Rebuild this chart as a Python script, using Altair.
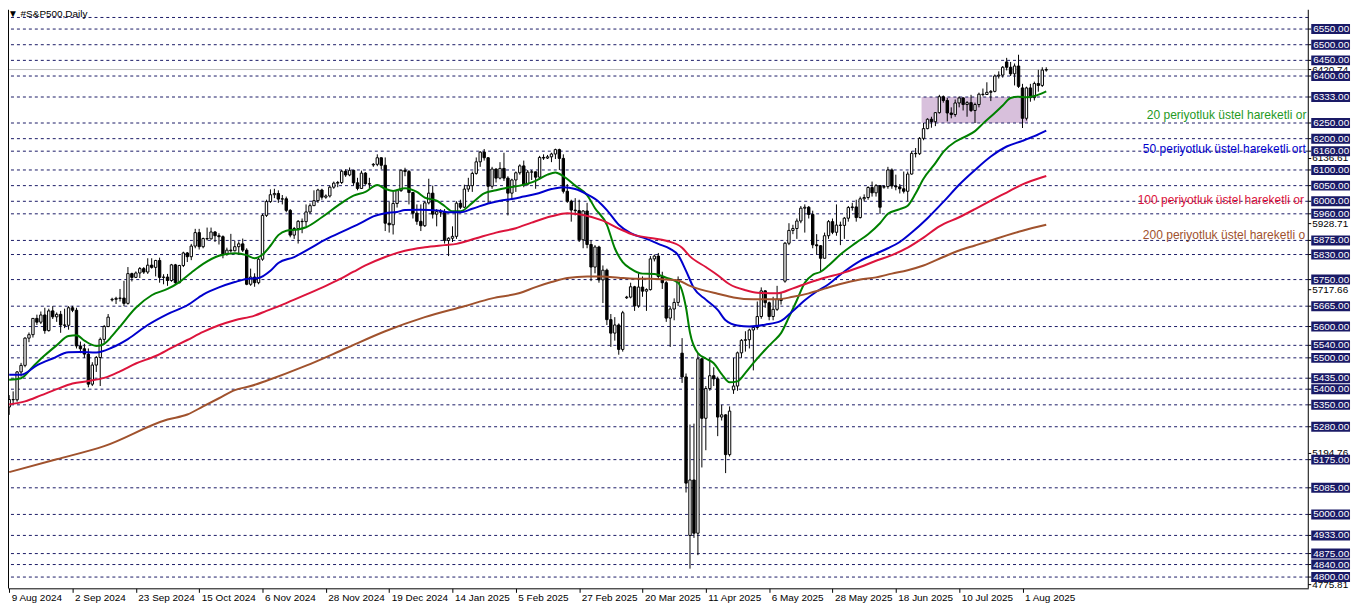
import altair as alt
import pandas as pd

# ---------------- candle data ----------------
opens = [
    5343, 5367, 5366, 5455, 5476, 5563, 5574, 5626, 5614, 5637,
    5587, 5650, 5631, 5639, 5605, 5604, 5660, 5652, 5538, 5529,
    5512, 5416, 5477, 5501, 5559, 5600, 5685, 5687, 5690, 5691,
    5674, 5769, 5757, 5771, 5785, 5774, 5796, 5789, 5811, 5757,
    5758, 5747, 5797, 5740, 5795, 5835, 5823, 5857, 5900, 5855,
    5881, 5880, 5902, 5890, 5887, 5832, 5844, 5842, 5855, 5864,
    5844, 5735, 5758, 5740, 5815, 5955, 5999, 6021, 6025, 6007,
    6008, 5971, 5892, 5913, 5936, 5935, 5966, 5986, 6002, 6036,
    6013, 6017, 6045, 6058, 6060, 6096, 6084, 6099, 6059, 6041,
    6090, 6056, 6116, 6118, 6139, 6115, 5930, 5925, 5993, 6034,
    6099, 6095, 6028, 5962, 5936, 5922, 5995, 6026, 5959, 5967,
    5965, 5875, 5882, 5888, 5994, 5981, 6039, 6050, 6089, 6126,
    6157, 6139, 6048, 6103, 6074, 6105, 6074, 6026, 6068, 6091,
    6113, 6055, 6093, 6094, 6077, 6140, 6138, 6142, 6151, 6165,
    6137, 6032, 6000, 5972, 5970, 5877, 5969, 5862, 5790, 5854,
    5749, 5780, 5622, 5579, 5605, 5527, 5692, 5694, 5727, 5666,
    5726, 5713, 5718, 5816, 5825, 5760, 5740, 5627, 5656, 5677,
    5515, 5439, 4933, 5110, 4940, 5497, 5307, 5402, 5443, 5433,
    5311, 5318, 5191, 5398, 5410, 5516, 5556, 5558, 5589, 5597,
    5632, 5714, 5676, 5632, 5655, 5688, 5745, 5866, 5907, 5913,
    5937, 5978, 5981, 5958, 5861, 5858, 5818, 5890, 5935, 5901,
    5924, 5923, 5946, 5980, 5982, 5948, 6008, 6012, 6044, 6027,
    6050, 6045, 6047, 6100, 6049, 6046, 6040, 6032, 6087, 6153,
    6152, 6201, 6232, 6262, 6254, 6283, 6334, 6322, 6282, 6277,
    6314, 6330, 6309, 6315, 6290, 6309, 6342, 6341, 6348, 6351,
    6400, 6403, 6445, 6428, 6407, 6432, 6362, 6265, 6362, 6331,
    6376, 6370, 6419,
]
highs = [
    5381, 5393, 5458, 5484, 5566, 5581, 5627, 5638, 5648, 5660,
    5657, 5665, 5645, 5650, 5657, 5665, 5666, 5660, 5552, 5545,
    5530, 5486, 5506, 5565, 5605, 5640, 5692, 5695, 5720, 5746,
    5790, 5772, 5776, 5790, 5790, 5818, 5818, 5813, 5820, 5767,
    5768, 5800, 5800, 5797, 5839, 5838, 5864, 5912, 5912, 5884,
    5916, 5916, 5905, 5898, 5891, 5852, 5896, 5874, 5872, 5881,
    5850, 5785, 5770, 5820, 5960, 6005, 6038, 6040, 6035, 6020,
    6015, 5975, 5918, 5940, 5945, 5990, 5993, 6035, 6040, 6040,
    6022, 6050, 6063, 6065, 6100, 6102, 6108, 6100, 6075, 6098,
    6093, 6075, 6122, 6150, 6140, 6140, 5998, 6030, 6038, 6101,
    6107, 6100, 6030, 5990, 5990, 6000, 6072, 6050, 5975, 5975,
    5975, 5885, 5920, 6000, 6005, 6053, 6075, 6095, 6140, 6160,
    6167, 6141, 6110, 6105, 6125, 6155, 6080, 6072, 6095, 6118,
    6130, 6100, 6100, 6095, 6145, 6150, 6148, 6155, 6168, 6168,
    6150, 6055, 6005, 6010, 6005, 5972, 5995, 5875, 5860, 5858,
    5795, 5785, 5640, 5630, 5610, 5650, 5698, 5740, 5730, 5770,
    5760, 5722, 5825, 5830, 5835, 5775, 5745, 5665, 5690, 5760,
    5563, 5450, 5287, 5290, 5515, 5500, 5410, 5500, 5470, 5440,
    5350, 5320, 5345, 5500, 5520, 5560, 5585, 5593, 5600, 5680,
    5725, 5716, 5680, 5695, 5730, 5710, 5870, 5930, 5925, 5945,
    5985, 5990, 5985, 5970, 5895, 5860, 5900, 5940, 5945, 5990,
    5935, 5950, 5985, 5995, 6005, 6015, 6022, 6048, 6063, 6055,
    6052, 6052, 6110, 6105, 6085, 6055, 6095, 6095, 6160, 6170,
    6205, 6250, 6265, 6270, 6285, 6340, 6338, 6330, 6300, 6325,
    6335, 6332, 6320, 6340, 6315, 6347, 6360, 6380, 6355, 6405,
    6415, 6432, 6458, 6445, 6440, 6468, 6375, 6366, 6375, 6382,
    6420, 6428, 6428,
]
lows = [
    5318, 5351, 5360, 5440, 5470, 5550, 5565, 5605, 5608, 5577,
    5584, 5624, 5615, 5580, 5595, 5590, 5646, 5530, 5515, 5500,
    5406, 5410, 5455, 5410, 5548, 5598, 5680, 5672, 5680, 5665,
    5670, 5744, 5755, 5755, 5768, 5768, 5785, 5760, 5740, 5735,
    5730, 5743, 5735, 5738, 5790, 5806, 5812, 5850, 5846, 5850,
    5875, 5878, 5870, 5862, 5818, 5826, 5836, 5840, 5830, 5838,
    5732, 5730, 5727, 5735, 5810, 5950, 5995, 6010, 5995, 5990,
    5965, 5885, 5880, 5865, 5898, 5920, 5960, 5985, 5995, 6005,
    6008, 6012, 6040, 6045, 6055, 6078, 6080, 6050, 6035, 6040,
    6053, 6040, 6110, 6112, 6102, 5905, 5900, 5894, 5980, 6030,
    6080, 5990, 5945, 5925, 5905, 5918, 5990, 5945, 5920, 5950,
    5865, 5825, 5870, 5880, 5975, 5978, 6030, 6030, 6085, 6110,
    6130, 5995, 6040, 6060, 6070, 6065, 5955, 6005, 6030, 6085,
    6045, 6050, 6068, 6040, 6070, 6132, 6135, 6125, 6135, 6100,
    6025, 5995, 5935, 5955, 5870, 5850, 5850, 5745, 5770, 5740,
    5675, 5605, 5535, 5555, 5510, 5520, 5688, 5690, 5650, 5660,
    5695, 5650, 5715, 5808, 5750, 5720, 5615, 5535, 5620, 5665,
    5420, 5070, 4827, 4925, 4870, 5150, 5205, 5395, 5410, 5250,
    5300, 5132, 5185, 5385, 5395, 5500, 5520, 5530, 5460, 5590,
    5625, 5660, 5620, 5620, 5650, 5670, 5740, 5860, 5895, 5880,
    5930, 5900, 5945, 5850, 5830, 5775, 5818, 5880, 5895, 5890,
    5860, 5880, 5935, 5970, 5935, 5945, 6000, 6005, 6015, 6015,
    5960, 6040, 6040, 6040, 6035, 6025, 6025, 6000, 6085, 6140,
    6148, 6195, 6230, 6235, 6240, 6280, 6315, 6255, 6265, 6270,
    6300, 6290, 6270, 6285, 6250, 6300, 6335, 6340, 6320, 6348,
    6392, 6395, 6418, 6400, 6370, 6362, 6234, 6258, 6318, 6322,
    6350, 6365, 6414,
]
closes = [
    5367, 5366, 5455, 5476, 5563, 5574, 5626, 5614, 5637, 5587,
    5650, 5631, 5639, 5605, 5604, 5660, 5652, 5538, 5529, 5512,
    5416, 5477, 5501, 5559, 5600, 5630, 5687, 5690, 5691, 5674,
    5769, 5757, 5771, 5785, 5774, 5796, 5789, 5811, 5757, 5758,
    5747, 5797, 5740, 5795, 5835, 5823, 5857, 5900, 5855, 5881,
    5880, 5902, 5890, 5887, 5832, 5844, 5842, 5855, 5864, 5844,
    5735, 5758, 5740, 5815, 5955, 5999, 6021, 6025, 6007, 6008,
    5971, 5892, 5913, 5936, 5935, 5966, 5986, 6002, 6036, 6013,
    6017, 6045, 6058, 6060, 6096, 6084, 6099, 6059, 6041, 6090,
    6056, 6055, 6118, 6139, 6115, 5930, 5925, 5993, 6034, 6099,
    6095, 6028, 5962, 5936, 5922, 5995, 6026, 5959, 5967, 5965,
    5875, 5882, 5888, 5994, 5981, 6039, 6050, 6089, 6126, 6157,
    6139, 6048, 6103, 6074, 6105, 6074, 6026, 6068, 6091, 6113,
    6055, 6093, 6094, 6077, 6140, 6138, 6142, 6151, 6165, 6137,
    6032, 6000, 5972, 5970, 5877, 5969, 5862, 5790, 5854, 5749,
    5780, 5622, 5579, 5605, 5527, 5644, 5694, 5727, 5666, 5726,
    5713, 5718, 5816, 5825, 5760, 5740, 5627, 5656, 5677, 5750,
    5439, 5100, 5110, 4940, 5497, 5307, 5402, 5443, 5433, 5311,
    5318, 5191, 5330, 5410, 5516, 5556, 5558, 5589, 5597, 5632,
    5714, 5676, 5632, 5655, 5688, 5683, 5866, 5907, 5913, 5937,
    5978, 5981, 5958, 5861, 5858, 5818, 5890, 5935, 5901, 5924,
    5923, 5946, 5980, 5982, 5948, 6008, 6012, 6044, 6027, 6050,
    5981, 6047, 6100, 6049, 6046, 6040, 6032, 6087, 6153, 6152,
    6201, 6232, 6262, 6254, 6283, 6334, 6322, 6282, 6277, 6314,
    6330, 6309, 6315, 6290, 6309, 6342, 6341, 6348, 6351, 6400,
    6403, 6428, 6428, 6407, 6432, 6367, 6265, 6362, 6331, 6376,
    6370, 6419, 6420.74,
]

# ---------------- moving averages (bar index, value) ----------------
ema20 = [(0, 5430), (3, 5435), (6, 5472), (9, 5508), (12, 5540), (15, 5570), (17, 5572),
         (19, 5555), (22, 5538), (24, 5545), (26, 5570), (28, 5600), (32, 5660), (36, 5700),
         (40, 5720), (43, 5742), (46, 5772), (49, 5800), (53, 5826), (57, 5834), (60, 5828),
         (62, 5818), (64, 5830), (66, 5858), (68, 5892), (70, 5906), (73, 5910), (75, 5917),
         (79, 5949), (83, 5986), (87, 6018), (90, 6030), (93, 6052), (95, 6040), (97, 6033),
         (100, 6042), (103, 6030), (105, 6012), (108, 6002), (110, 5985), (112, 5968),
         (114, 5968), (117, 5995), (120, 6025), (123, 6035), (126, 6044), (129, 6050),
         (133, 6065), (136, 6085), (138, 6092), (140, 6080), (143, 6050), (146, 6020),
         (148, 5978), (151, 5925), (153, 5850), (155, 5806), (157, 5785), (160, 5769),
         (163, 5768), (166, 5756), (169, 5740), (171, 5660), (172, 5580), (174, 5515),
         (176, 5498), (178, 5483), (180, 5448), (182, 5422), (184, 5425), (186, 5452),
         (188, 5483), (191, 5526), (193, 5552), (195, 5579), (197, 5630), (199, 5684),
         (201, 5740), (203, 5765), (205, 5775), (207, 5795), (210, 5830), (214, 5868),
         (217, 5895), (220, 5930), (222, 5960), (225, 5975), (227, 5986), (229, 6025),
         (231, 6072), (234, 6122), (236, 6158), (239, 6190), (241, 6203), (244, 6224),
         (246, 6248), (249, 6282), (251, 6306), (253, 6330), (255, 6334), (257, 6332),
         (259, 6336), (262, 6351)]
ema50 = [(0, 5446), (3, 5446), (7, 5476), (11, 5498), (15, 5518), (18, 5519), (22, 5517),
         (26, 5533), (30, 5560), (35, 5605), (40, 5640), (45, 5668), (49, 5702), (53, 5725),
         (57, 5742), (60, 5752), (63, 5755), (66, 5778), (68, 5803), (72, 5822), (76, 5850),
         (80, 5878), (85, 5908), (89, 5932), (92, 5952), (95, 5962), (98, 5966), (100, 5972),
         (104, 5973), (108, 5971), (111, 5965), (114, 5965), (117, 5976), (121, 5993),
         (124, 6002), (127, 6007), (130, 6015), (133, 6023), (137, 6039), (140, 6045),
         (143, 6039), (146, 6022), (149, 5998), (151, 5972), (154, 5925), (157, 5898),
         (161, 5880), (164, 5864), (167, 5848), (169, 5828), (171, 5778), (173, 5722),
         (176, 5686), (179, 5653), (181, 5620), (184, 5603), (187, 5600), (191, 5606),
         (195, 5618), (198, 5650), (201, 5684), (204, 5712), (207, 5735), (211, 5776),
         (215, 5810), (219, 5833), (222, 5850), (225, 5870), (228, 5900), (232, 5946),
         (236, 5998), (240, 6053), (244, 6100), (248, 6143), (252, 6175), (256, 6193),
         (259, 6208), (262, 6226)]
ema100 = [(0, 5351), (4, 5361), (8, 5380), (12, 5400), (16, 5418), (20, 5426), (24, 5436),
          (28, 5457), (32, 5482), (37, 5506), (41, 5532), (45, 5557), (49, 5583), (53, 5604),
          (57, 5620), (62, 5635), (65, 5650), (70, 5675), (75, 5702), (80, 5730), (83, 5748),
          (87, 5775), (90, 5795), (95, 5822), (100, 5842), (105, 5853), (110, 5860),
          (113, 5864), (118, 5882), (123, 5900), (128, 5914), (132, 5932), (137, 5952),
          (141, 5962), (145, 5956), (150, 5938), (154, 5913), (158, 5892), (162, 5883),
          (166, 5874), (170, 5852), (172, 5824), (176, 5790), (179, 5764), (182, 5735),
          (186, 5716), (189, 5708), (194, 5706), (198, 5722), (202, 5740), (206, 5756),
          (210, 5769), (215, 5790), (219, 5810), (223, 5828), (227, 5852), (231, 5884),
          (235, 5920), (240, 5949), (244, 5975), (248, 6002), (252, 6028), (256, 6054),
          (262, 6081)]
ema200 = [(0, 5135), (12, 5176), (24, 5218), (40, 5303), (45, 5319), (49, 5345), (53, 5371),
          (57, 5397), (61, 5410), (65, 5427), (75, 5475), (85, 5530), (95, 5585), (105, 5630),
          (115, 5665), (122, 5690), (129, 5707), (133, 5726), (137, 5742), (141, 5755),
          (146, 5760), (150, 5760), (154, 5756), (158, 5753), (162, 5753), (166, 5750),
          (169, 5747), (172, 5730), (176, 5714), (179, 5705), (183, 5693), (188, 5687),
          (194, 5687), (198, 5695), (202, 5706), (206, 5721), (210, 5736), (215, 5750),
          (219, 5757), (223, 5769), (227, 5780), (231, 5795), (236, 5822), (240, 5843),
          (244, 5859), (248, 5875), (252, 5891), (256, 5906), (262, 5925)]

ma_names = ["EMA20", "EMA50", "EMA100", "EMA200"]
ma_colors = ["#008000", "#0000cd", "#dc143c", "#a0522d"]
# labels as far as they are visible before the price scale cuts them
ma_label_texts = ["20 periyotluk üstel hareketli or",
                  "50 periyotluk üstel hareketli ort",
                  "100 periyotluk üstel hareketli or",
                  "200 periyotluk üstel hareketli o"]
ma_label_bar = [287.4, 286.4, 285.1, 286.4]
ma_label_price = [6275, 6167, 6005, 5891]
ma_label_colors = ["#1f9a1f", "#0000cd", "#dc143c", "#a0522d"]

# ---------------- axis / levels ----------------
x_tick_bars = [0, 16, 32, 48, 64, 80, 96, 112, 128, 144, 160, 176, 192, 208, 224, 240, 256]
x_tick_labels = ["9 Aug 2024", "2 Sep 2024", "23 Sep 2024", "15 Oct 2024", "6 Nov 2024",
                 "28 Nov 2024", "19 Dec 2024", "14 Jan 2025", "5 Feb 2025", "27 Feb 2025",
                 "20 Mar 2025", "11 Apr 2025", "6 May 2025", "28 May 2025", "18 Jun 2025",
                 "10 Jul 2025", "1 Aug 2025"]
level_lines = [6587, 6550, 6500, 6450, 6400, 6333, 6250, 6200, 6160, 6100, 6050, 6000, 5960,
               5875, 5830, 5750, 5665, 5600, 5540, 5500, 5435, 5400, 5350, 5280, 5175, 5085,
               5000, 4933, 4875, 4840, 4800]
boxed_levels = [6550, 6500, 6450, 6400, 6333, 6250, 6200, 6160, 6100, 6050, 6000, 5960,
                5875, 5830, 5750, 5665, 5600, 5540, 5500, 5435, 5400, 5350, 5280, 5175, 5085,
                5000, 4933, 4875, 4840, 4800]
plain_price_labels = [6420.74, 6136.61, 5928.71, 5717.66, 5194.76, 4775.81]
bid_price = 6420.74
zone_bars = [230.5, 257.4]
zone_prices = [6250, 6333]

# ---------------- build ----------------
W, H = 1308, 582
FONT = "Liberation Sans"
NAVY = "#1a1a66"

xs = alt.Scale(domain=[-0.3, 328.2], nice=False, zero=False, padding=0)
ys = alt.Scale(domain=[4764, 6611.6], nice=False, zero=False, padding=0)

labels_js = "[" + ",".join("'" + s + "'" for s in x_tick_labels) + "]"
xaxis = alt.Axis(values=x_tick_bars, labelExpr=labels_js + "[round(datum.value/16)]",
                 title=None, grid=False, domain=True, domainColor="black", domainWidth=1,
                 ticks=True, tickSize=4, tickColor="black", labelAlign="left",
                 labelBaseline="top", labelPadding=0, labelOffset=2, labelFont=FONT,
                 labelFontSize=10, labelColor="black", labelOverlap=False, labelFlush=False,
                 labelBound=False)


def X(f):
    return alt.X(f, type="quantitative", scale=xs, axis=xaxis)


def Y(f):
    return alt.Y(f, type="quantitative", scale=ys, axis=None)


candles = pd.DataFrame({"i": list(range(len(closes))), "open": opens, "high": highs,
                        "low": lows, "close": closes})

ma_rows = []
for name, pts in zip(ma_names, [ema20, ema50, ema100, ema200]):
    for b, v in pts:
        ma_rows.append({"bar": b, "val": v, "ma": name})
ma_df = pd.DataFrame(ma_rows)

zone_df = pd.DataFrame({"x1": [zone_bars[0]], "x2": [zone_bars[1]],
                        "y1": [zone_prices[0]], "y2": [zone_prices[1]]})
levels_df = pd.DataFrame({"p": level_lines})
boxes_df = pd.DataFrame({"p": boxed_levels, "t": [f"{v:.2f}" for v in boxed_levels]})
plain_df = pd.DataFrame({"p": plain_price_labels, "t": [f"{v:.2f}" for v in plain_price_labels]})
ticks_df = pd.DataFrame({"p": boxed_levels + plain_price_labels})
bid_df = pd.DataFrame({"p": [bid_price]})
ma_lab_df = pd.DataFrame({"bar": ma_label_bar, "p": ma_label_price, "t": ma_label_texts,
                          "ma": ma_names})
one = pd.DataFrame({"t": ["\u25bc #S&P500,Daily"]})

zone = alt.Chart(zone_df).mark_rect(color="#d8c0dc").encode(
    x=X("x1"), x2="x2", y=Y("y1"), y2="y2")

grid = alt.Chart(levels_df).mark_rule(color=NAVY, strokeDash=[3, 3], strokeWidth=1).encode(
    y=Y("p"))

bid = alt.Chart(bid_df).mark_rule(color="#c0c0c0", strokeWidth=1).encode(y=Y("p"))

wicks = alt.Chart(candles).mark_rule(color="black", strokeWidth=1).encode(
    x=X("i"), y=Y("low"), y2="high")

bodies = alt.Chart(candles).mark_bar(size=2.4, stroke="black", strokeWidth=1).encode(
    x=X("i"), y=Y("open"), y2="close",
    fill=alt.condition("datum.close >= datum.open", alt.value("white"), alt.value("black")))

ma_lines = alt.Chart(ma_df).mark_line(strokeWidth=2, interpolate="monotone").encode(
    x=X("bar"), y=Y("val"),
    color=alt.Color("ma:N", scale=alt.Scale(domain=ma_names, range=ma_colors), legend=None),
    detail="ma:N")

ma_texts = alt.Chart(ma_lab_df).mark_text(align="left", baseline="middle", font=FONT,
                                          fontSize=12.1, clip=True).encode(
    x=X("bar"), y=Y("p"), text="t:N",
    color=alt.Color("ma:N", scale=alt.Scale(domain=ma_names, range=ma_label_colors),
                    legend=None))

title = alt.Chart(one).mark_text(align="left", baseline="middle", font=FONT, fontSize=10,
                                 color="black").encode(
    x=alt.value(0), y=alt.value(4), text="t:N")

left_border = alt.Chart(pd.DataFrame({"a": [0]})).mark_rule(color="black").encode(
    x=alt.value(0.5))
right_border = alt.Chart(pd.DataFrame({"a": [0]})).mark_rule(color="black").encode(
    x=alt.value(W))

axis_ticks = alt.Chart(ticks_df).mark_rule(color="black").encode(
    x=alt.value(W), x2=alt.value(W + 3), y=Y("p"))

plain_labels = alt.Chart(plain_df).mark_text(align="left", baseline="middle", font=FONT,
                                             fontSize=10, color="black").encode(
    x=alt.value(W + 4), y=Y("p"), text="t:N")

box_bg = alt.Chart(boxes_df).mark_rule(color=NAVY, strokeWidth=10, strokeCap="butt").encode(
    x=alt.value(W + 3), x2=alt.value(W + 42), y=Y("p"))

box_text = alt.Chart(boxes_df).mark_text(align="left", baseline="middle", font=FONT,
                                         fontSize=10, color="white").encode(
    x=alt.value(W + 5), y=Y("p"), text="t:N")

chart = alt.layer(
    zone, grid, bid, wicks, bodies, ma_lines, ma_texts, title, left_border, right_border,
    axis_ticks, plain_labels, box_bg, box_text
).resolve_scale(color="independent").properties(
    width=W, height=H,
    autosize=alt.AutoSizeParams(type="none"),
    padding={"left": 0, "top": 0, "right": 46, "bottom": 17},
    background="white",
).configure_view(strokeWidth=0)

chart.save("out.html", embed_options={"renderer": "svg", "actions": False})
